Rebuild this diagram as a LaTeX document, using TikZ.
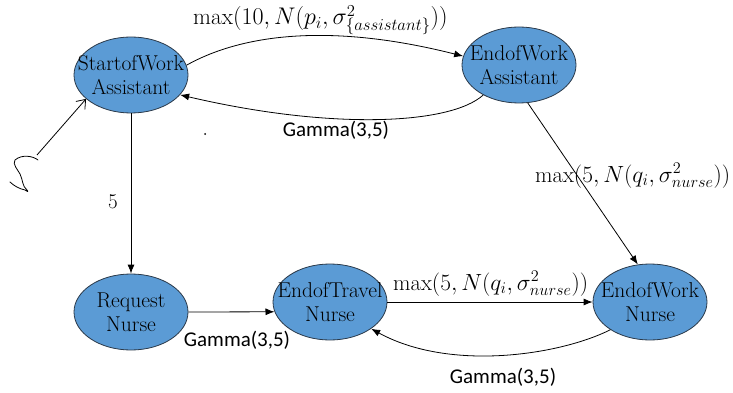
\documentclass[tikz,border=0pt]{standalone}
\usepackage{fontspec}
\newfontfamily\gammafont{Carlito}
\usetikzlibrary{shapes.geometric,arrows.meta}
\definecolor{nodefill}{HTML}{5B9BD5}
\definecolor{nodeline}{HTML}{2B3A4A}
\tikzset{
  state/.style={ellipse, draw=nodeline, line width=0.8pt, fill=nodefill,
    minimum width=114pt, minimum height=76pt, inner sep=0pt,
    label={[font=\rmfamily\fontsize{21.5}{24}\selectfont, align=center, inner sep=0pt]center:#1}},
  conn/.style={line width=0.8pt, -{Latex[length=9pt,width=7pt]}},
  entry/.style={line width=0.8pt, -{Straight Barb[length=8pt,width=12pt]}},
  glabel/.style={font=\gammafont\fontsize{21}{24}\selectfont, inner sep=0pt},
  mlabel/.style={font=\fontsize{20}{24}\selectfont, inner sep=0pt, anchor=base west},
  nlabel/.style={font=\rmfamily\fontsize{21}{24}\selectfont, inner sep=0pt}
}
\begin{document}
\begin{tikzpicture}[x=1pt,y=-1pt]
\path[use as bounding box] (0,0) rectangle (733,393);

\node[state={StartofWork\\Assistant}] (SW) at (131,75) {};
\node[state={EndofWork\\Assistant}] (EW) at (519,65) {};
\node[state={Request\\Nurse}] (RN) at (131,312) {};
\node[state={EndofTravel\\Nurse}] (ET) at (330,302) {};
\node[state={EndofWork\\Nurse}] (EN) at (650,302) {};

% entry squiggle
\coordinate (entry) at (37,155);
\draw[line width=0.8pt, line cap=round, line join=round]
  (38,160) .. controls (33,156) and (22,154) .. (15,160)
  .. controls (12,164) and (18,170) .. (20,174)
  .. controls (23,180) and (22,186) .. (27,190)
  .. controls (29,193) and (27,191) .. (25,190)
  .. controls (20,189) and (14,186) .. (10,182);
\draw[entry] (entry) -- (SW.208);

% connectors
\draw[conn] (SW.10) .. controls (235,38) and (320,20) .. (EW.171);
\draw[conn] (EW.220) .. controls (450,125) and (330,130) .. (SW.-22);
\draw[conn] (SW.south) -- (RN.north);
\draw[conn] (RN.east) -- (ET.190);
\draw[conn] (ET.east) -- (EN.west);
\draw[conn] (EN.215) .. controls (560,355) and (450,372) .. (ET.-33);
\draw[conn] (EW.-77) -- (EN.108);

% labels
\node[mlabel] (l1) at (193,25) {\scalebox{1.16}{$\mathrm{max}(10,N(p_i,\sigma^2_{\{assistant\}}))$}};
\node[mlabel] (l2) at (535,182) {\scalebox{1.13}{$\mathrm{max}(5,N(q_i,\sigma^2_{nurse}))$}};
\node[mlabel] (l3) at (393,290) {\scalebox{1.13}{$\mathrm{max}(5,N(q_i,\sigma^2_{nurse}))$}};
\node[nlabel] (l5) at (113,202) {5};
\node[glabel] (g1) at (336,130) {Gamma(3,5)};
\node[glabel] (g2) at (237,340) {Gamma(3,5)};
\node[glabel] (g3) at (503,377) {Gamma(3,5)};
\fill (205,134) circle (1pt);
\end{tikzpicture}
\end{document}
